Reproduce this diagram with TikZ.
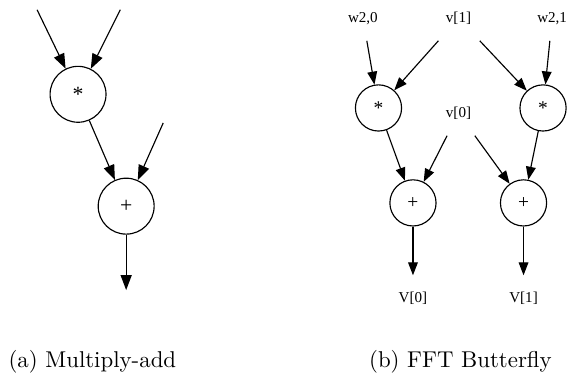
\documentclass[tikz,border=0pt]{standalone}
\usepackage{fontspec}
\newfontfamily\dotfont{Liberation Serif}
\usetikzlibrary{arrows.meta}

\tikzset{
  op/.style={draw, circle, line width=0.5pt, inner sep=0pt},
  bigop/.style={op, minimum size=0.86cm, font=\dotfont\fontsize{9.5}{10}\selectfont},
  smallop/.style={op, minimum size=0.71cm, font=\dotfont\fontsize{8.5}{9}\selectfont},
  sig/.style={minimum width=0.8cm, minimum height=0.68cm, inner sep=0pt, font=\dotfont\fontsize{6.6}{7}\selectfont},
  bigedge/.style={-{Triangle[length=0.23cm,width=0.17cm]}, line width=0.5pt},
  smalledge/.style={-{Triangle[length=0.2cm,width=0.15cm]}, line width=0.5pt}
}

\begin{document}
\begin{tikzpicture}
  \useasboundingbox (0,0) rectangle (8.78,-5.89);
  % Multiply-add
  \coordinate (inA) at (0.57,-0.15);
  \coordinate (inB) at (1.85,-0.15);
  \coordinate (inC) at (2.51,-1.89);
  \coordinate (sum) at (1.94,-4.46);
  \node[bigop] (mul) at (1.20,-1.45) {*};
  \node[bigop] (add) at (1.94,-3.17) {+};
  \draw[bigedge] (inA) -- (mul);
  \draw[bigedge] (inB) -- (mul);
  \draw[bigedge] (mul) -- (add);
  \draw[bigedge] (inC) -- (add);
  \draw[bigedge] (add) -- (sum);
  \node at (1.42,-5.57) {(a) Multiply-add};
  % FFT butterfly
  \node[sig] (w20) at (5.58,-0.28) {w2,0};
  \node[sig] (v1) at (7.05,-0.28) {v[1]};
  \node[sig] (w21) at (8.49,-0.28) {w2,1};
  \node[sig] (v0) at (7.05,-1.74) {v[0]};
  \node[smallop] (mulL) at (5.82,-1.66) {*};
  \node[smallop] (mulR) at (8.35,-1.66) {*};
  \node[smallop] (addL) at (6.35,-3.12) {+};
  \node[smallop] (addR) at (8.05,-3.12) {+};
  \node[sig] (V0) at (6.35,-4.58) {V[0]};
  \node[sig] (V1) at (8.05,-4.58) {V[1]};
  \draw[smalledge] (w20) -- (mulL);
  \draw[smalledge] (v1) -- (mulL);
  \draw[smalledge] (v1) -- (mulR);
  \draw[smalledge] (w21) -- (mulR);
  \draw[smalledge] (mulL) -- (addL);
  \draw[smalledge] (v0) -- (addL);
  \draw[smalledge] (v0) -- (addR);
  \draw[smalledge] (mulR) -- (addR);
  \draw[smalledge] (addL) -- (V0);
  \draw[smalledge] (addR) -- (V1);
  \node at (7.08,-5.57) {(b) FFT Butterfly};
\end{tikzpicture}
\end{document}
